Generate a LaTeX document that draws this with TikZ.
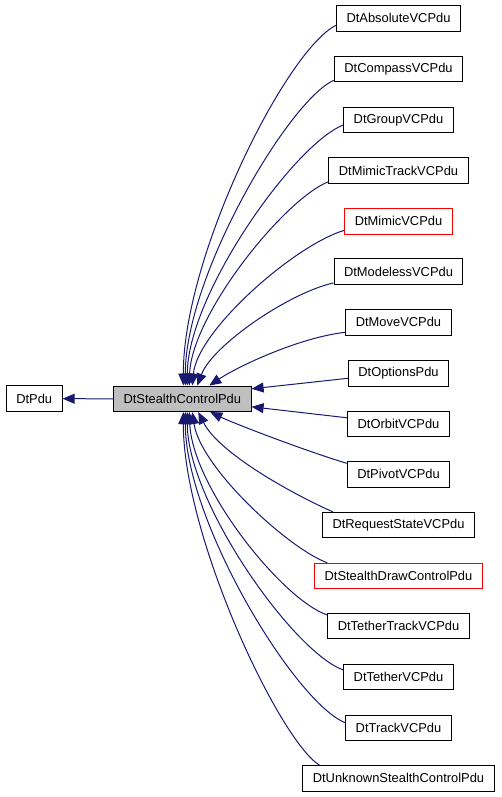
\documentclass[tikz,border=0pt]{standalone}
\usepackage{fontspec}
\setmainfont{Liberation Sans}
\usetikzlibrary{arrows.meta}
\definecolor{edgeblue}{HTML}{191970}
\definecolor{boxgray}{HTML}{BFBFBF}

\begin{document}
\begin{tikzpicture}[x=1pt,y=-1pt,
		cls/.style={draw=black,line width=1pt,fill=white,minimum height=25.5pt,inner xsep=10pt,inner ysep=0pt,font=\fontsize{12.9}{14}\selectfont},
		redcls/.style={cls,draw=red},
		inh/.style={draw=edgeblue,line width=1pt,-{Triangle[length=12pt,width=10pt]}}]
		\useasboundingbox (0,0) rectangle (501,797);
		
		\node[cls] (pdu) at (34.2,398.7) {DtPdu};
		\node[cls,fill=boxgray] (stealth) at (182.3,398.8) {DtStealthControlPdu};
		
		\node[cls] (absolute) at (398.5,18.3) {DtAbsoluteVCPdu};
		\node[cls] (compass) at (398.5,69) {DtCompassVCPdu};
		\node[cls] (group) at (398.5,120) {DtGroupVCPdu};
		\node[cls] (mimictrack) at (398.5,170.5) {DtMimicTrackVCPdu};
		\node[redcls] (mimic) at (398.5,221.3) {DtMimicVCPdu};
		\node[cls] (modeless) at (398.5,271.7) {DtModelessVCPdu};
		\node[cls] (move) at (398.5,322.3) {DtMoveVCPdu};
		\node[cls] (options) at (398.5,373.3) {DtOptionsPdu};
		\node[cls] (orbit) at (398.5,423.8) {DtOrbitVCPdu};
		\node[cls] (pivot) at (398.5,474.3) {DtPivotVCPdu};
		\node[cls] (request) at (398.5,525.2) {DtRequestStateVCPdu};
		\node[redcls] (stealthdraw) at (398.5,576) {DtStealthDrawControlPdu};
		\node[cls] (tethertrack) at (398.5,626.2) {DtTetherTrackVCPdu};
		\node[cls] (tether) at (398.5,677.2) {DtTetherVCPdu};
		\node[cls] (track) at (398.5,728) {DtTrackVCPdu};
		\node[cls] (unknown) at (398.5,778.3) {DtUnknownStealthControlPdu};
		
		\draw[inh] (stealth.west) -- (pdu.east);
		
		% upper children
		\draw[inh] ([yshift=-7pt]absolute.west) .. controls +(-50,25) and +(0,-130) .. ([xshift=1pt]stealth.north);
		\draw[inh] ([yshift=2pt]compass.south west) .. controls +(-45,20) and +(0,-110) .. ([xshift=3pt]stealth.north);
		\draw[inh] ([yshift=-5pt]group.west) .. controls +(-50,20) and +(0,-90) .. ([xshift=5pt]stealth.north);
		\draw[inh] ([yshift=2pt]mimictrack.south west) .. controls +(-45,18) and +(2,-70) .. ([xshift=7pt]stealth.north);
		\draw[inh] ([yshift=-9pt]mimic.west) .. controls +(-50,15) and +(5,-55) .. ([xshift=10pt]stealth.north);
		\draw[inh] ([yshift=2pt]modeless.south west) .. controls +(-45,10) and +(15,-40) .. ([xshift=15pt]stealth.north);
		\draw[inh] ([yshift=-10pt]move.west) .. controls +(-45,5) and +(30,-20) .. ([xshift=27pt]stealth.north);
		\draw[inh] ([yshift=-5pt]options.west) -- ([yshift=10pt]stealth.east);
		
		% lower children
		\draw[inh] ([yshift=6pt]orbit.west) -- ([yshift=-8pt]stealth.east);
		\draw[inh] ([yshift=11pt]pivot.west) .. controls +(-40,-12) and +(25,12) .. ([xshift=28pt]stealth.south);
		\draw[inh] ([xshift=11pt]request.north west) .. controls +(-45,-20) and +(20,40) .. ([xshift=16pt]stealth.south);
		\draw[inh] ([xshift=13pt]stealthdraw.north west) .. controls +(-40,-15) and +(8,55) .. ([xshift=10pt]stealth.south);
		\draw[inh] ([yshift=-2pt]tethertrack.north west) .. controls +(-45,-15) and +(3,75) .. ([xshift=7pt]stealth.south);
		\draw[inh] ([yshift=-6pt]tether.north west) .. controls +(-50,-18) and +(0,90) .. ([xshift=5pt]stealth.south);
		\draw[inh] ([yshift=-8pt]track.north west) .. controls +(-50,-20) and +(0,110) .. ([xshift=3pt]stealth.south);
		\draw[inh] ([xshift=17pt]unknown.north west) .. controls +(-40,-25) and +(0,125) .. ([xshift=1pt]stealth.south);
	\end{tikzpicture}
\end{document}
